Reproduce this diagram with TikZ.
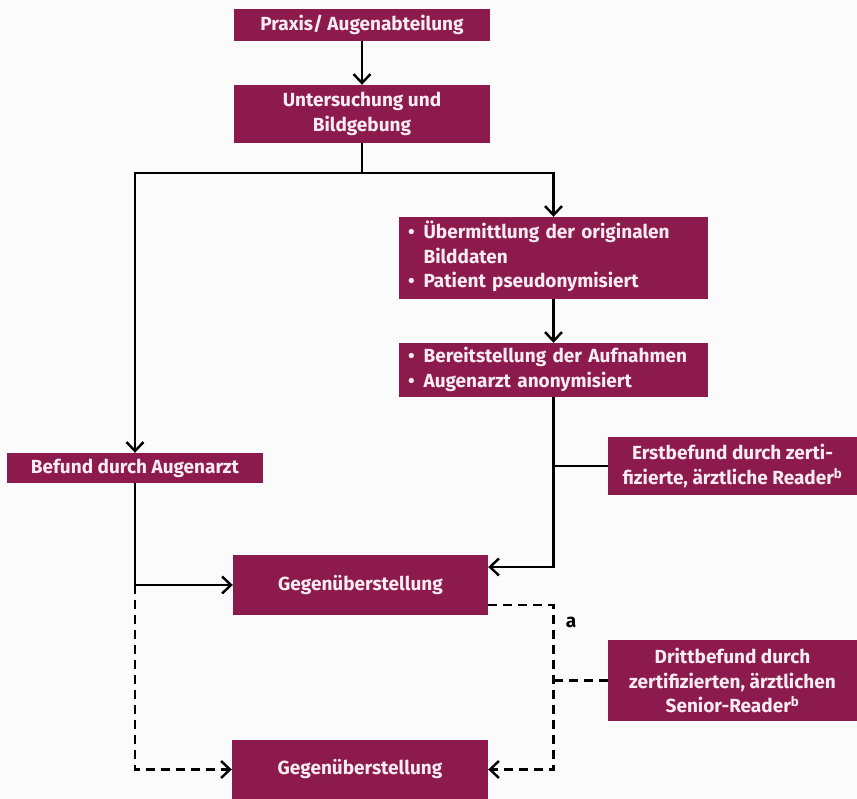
\documentclass[tikz,border=0pt]{standalone}
\usepackage{fontspec}
\setmainfont{Fira Sans}
\usetikzlibrary{arrows.meta,calc}
\definecolor{weinrot}{RGB}{140,26,76}
\definecolor{kastenschrift}{RGB}{248,236,242}
\tikzset{
  kasten/.style={fill=weinrot, text=kastenschrift, font=\fontsize{19}{24.5}\selectfont\bfseries,
    align=center, inner sep=0pt},
  liste/.style={kasten, align=left, text width=291pt, inner xsep=9pt},
  verbinder/.style={line width=2.4pt, black},
  pfeil/.style={verbinder, -{Straight Barb[length=9pt,width=17pt]}},
  gestrichelt/.style={dash pattern=on 9pt off 6pt}
}
\begin{document}
\begin{tikzpicture}[x=1pt,y=-1pt]
\useasboundingbox (0,0) rectangle (857,799);
\fill[white!97!gray] (0,0) rectangle (857,799);
% Kaesten
\node[kasten, minimum width=256pt, minimum height=32pt] (praxis) at (362,25) {Praxis/ Augenabteilung};
\node[kasten, minimum width=256pt, minimum height=58pt] (untersuchung) at (362,114) {Untersuchung und\\Bildgebung};
\node[liste, minimum height=82pt] (uebermittlung) at (553.5,258) {%
  \begin{tabular}{@{}l@{\hspace{9pt}}l@{}}
  \textbullet & Übermittlung der originalen\\
   & Bilddaten\\
  \textbullet & Patient pseudonymisiert
  \end{tabular}};
\node[liste, minimum height=54pt] (bereitstellung) at (553.5,370) {%
  \begin{tabular}{@{}l@{\hspace{9pt}}l@{}}
  \textbullet & Bereitstellung der Aufnahmen\\
  \textbullet & Augenarzt anonymisiert
  \end{tabular}};
\node[kasten, minimum width=256pt, minimum height=30pt] (befund) at (135,468) {Befund durch Augenarzt};
\node[kasten, minimum width=249pt, minimum height=58pt] (erstbefund) at (732.5,466) {Erstbefund durch zerti-\\fizierte, ärztliche Reader\textsuperscript{b}};
\node[kasten, minimum width=255pt, minimum height=60pt] (gegen1) at (360.5,585) {Gegenüberstellung};
\node[kasten, minimum width=249pt, minimum height=81pt] (drittbefund) at (732.5,680.5) {Drittbefund durch\\zertifizierten, ärztlichen\\Senior-Reader\textsuperscript{b}};
\node[kasten, minimum width=256pt, minimum height=59pt] (gegen2) at (360,769.5) {Gegenüberstellung};
\node[font=\fontsize{19}{22}\selectfont\bfseries] (a) at (571,622) {a};
% Hilfspunkte
\coordinate (verzweigung) at (362,173);
\coordinate (rechts) at (553.5,466);
\coordinate (links) at (135,585);
\coordinate (dashoben) at (553.5,605);
\coordinate (dashmitte) at (553.5,680.5);
% Verbindungen
\draw[pfeil] (praxis) -- (untersuchung);
\draw[verbinder] (untersuchung) -- (verzweigung);
\draw[pfeil] (verzweigung) -| (befund.north);
\draw[pfeil] (verzweigung) -| (uebermittlung.north);
\draw[pfeil] (uebermittlung) -- (bereitstellung);
\draw[pfeil] (bereitstellung.south) |- ($(gegen1.east)+(0,-18)$);
\draw[verbinder] (erstbefund.west) -- (rechts);
\draw[pfeil] (befund) -- (links) -- (gegen1.west);
\draw[pfeil, gestrichelt] (links) |- (gegen2.west);
\draw[pfeil, gestrichelt] ($(gegen1.east)+(0,20)$) -- (dashoben) |- (gegen2.east);
\draw[verbinder, gestrichelt] (drittbefund.west) -- (dashmitte);
\end{tikzpicture}
\end{document}
